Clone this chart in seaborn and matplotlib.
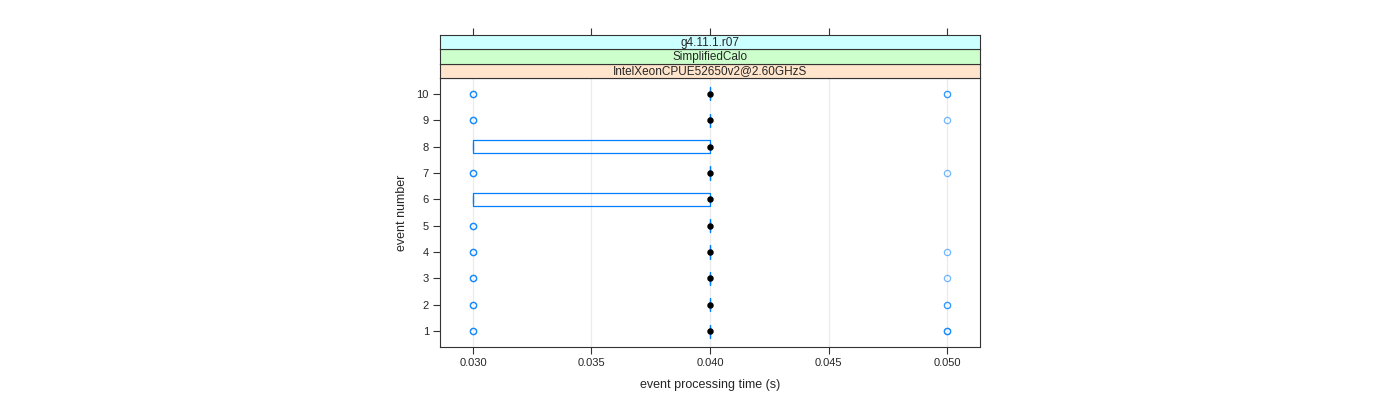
import numpy as np
import pandas as pd
import matplotlib
matplotlib.use("Agg")
import matplotlib.pyplot as plt
import seaborn as sns

# ---- data ----
events = [1, 2, 3, 4, 5, 6, 7, 8, 9, 10]
time_values = [0.030, 0.040, 0.050]
count_030 = [3, 3, 3, 3, 3, 6, 3, 6, 3, 3]
count_040 = [14, 15, 16, 16, 17, 14, 16, 14, 16, 15]
count_050 = [3, 2, 1, 1, 0, 0, 1, 0, 1, 2]
x_ticks = [0.030, 0.035, 0.040, 0.045, 0.050]
x_tick_labels = ["0.030", "0.035", "0.040", "0.045", "0.050"]
strip_labels = ["g4.11.1.r07", "SimplifiedCalo", "IntelXeonCPUE52650v2@2.60GHzS"]
strip_colors = ["#ccffff", "#ccffcc", "#ffe5cc"]

rows = []
for ev, c3, c4, c5 in zip(events, count_030, count_040, count_050):
    for val, cnt in zip(time_values, (c3, c4, c5)):
        rows += [{"event": str(ev), "time": val}] * cnt
df = pd.DataFrame(rows)
order = [str(e) for e in events[::-1]]

sns.set_style("white")
plt.rcParams["font.family"] = ["Liberation Sans", "DejaVu Sans"]
plt.rcParams["font.size"] = 8

BLUE = "#0080ff"
EDGE = "#333333"

fig = plt.figure(figsize=(14, 4), dpi=100)
ax = fig.add_axes([440 / 1400, 1 - 347 / 400, 540 / 1400, 269 / 400])

for xt in x_ticks:
    ax.axvline(xt, color="#ebebeb", lw=0.9, zorder=0)

sns.boxplot(data=df, x="time", y="event", order=order, orient="h",
            width=0.5, fill=False, color=BLUE, linewidth=0.9, whis=1.5,
            medianprops=dict(visible=False),
            flierprops=dict(marker="o", markersize=4.5, markerfacecolor="none",
                            markeredgecolor=BLUE, markeredgewidth=0.9, alpha=0.55),
            ax=ax)
sns.pointplot(data=df, x="time", y="event", order=order, orient="h",
              estimator="median", errorbar=None, linestyle="none",
              color="black", markers="o", markersize=2.6, ax=ax)

ax.set_xlim(0.028608, 0.051392)
ax.set_ylim(9.6, -0.6)
ax.set_xticks(x_ticks)
ax.set_xticklabels(x_tick_labels)
ax.tick_params(axis="both", direction="out", length=5, width=0.8, color=EDGE,
               labelsize=8, bottom=True, left=True, top=False, right=False, pad=3)
ax.set_xlabel("event processing time (s)", fontsize=9, labelpad=8)
ax.set_ylabel("event number", fontsize=9, labelpad=6)
for sp in ax.spines.values():
    sp.set_color(EDGE)
    sp.set_linewidth(0.8)

# strips
strip_h = 14.3 / 400
top_panel = 1 - 78 / 400
for i, (lab, col) in enumerate(zip(strip_labels[::-1], strip_colors[::-1])):
    sax = fig.add_axes([440 / 1400, top_panel + i * strip_h, 540 / 1400, strip_h],
                       sharex=ax)
    sax.set_facecolor(col)
    sax.text(0.5, 0.45, lab, transform=sax.transAxes, ha="center", va="center",
             fontsize=8.5)
    sax.set_yticks([])
    for sp in sax.spines.values():
        sp.set_color(EDGE)
        sp.set_linewidth(0.8)
    if i == 2:
        sax.tick_params(axis="x", top=True, bottom=False, labeltop=False,
                        labelbottom=False, direction="out", length=5,
                        width=0.8, color=EDGE)
    else:
        sax.tick_params(axis="x", top=False, bottom=False, labeltop=False,
                        labelbottom=False)

fig.savefig("out.png", dpi=100)
